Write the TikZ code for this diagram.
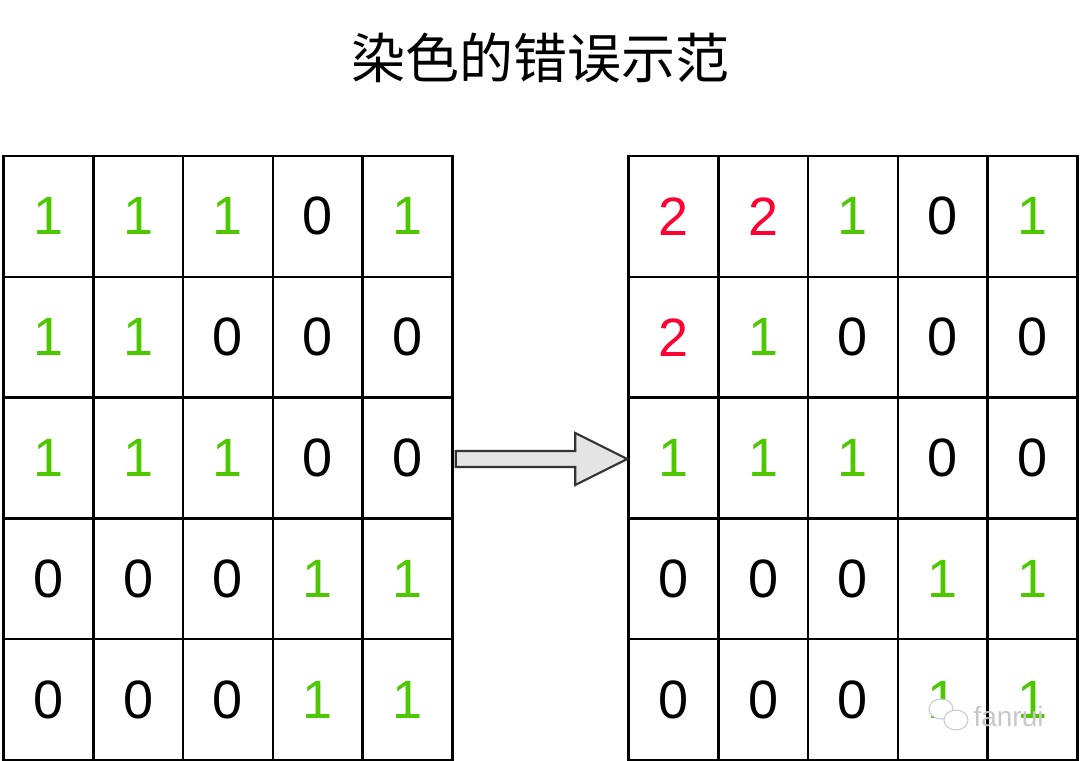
\documentclass[tikz,border=0pt]{standalone}
\usepackage{fontspec}
\setmainfont{Liberation Sans}
\newfontfamily\cjk{Noto Sans CJK SC}
\usetikzlibrary{calc}
\definecolor{gr}{RGB}{77,200,0}
\definecolor{rd}{RGB}{255,0,51}
\definecolor{arrowfill}{RGB}{228,228,228}
\definecolor{arrowline}{RGB}{51,51,51}
\definecolor{wm}{RGB}{200,200,200}
\begin{document}
\begin{tikzpicture}[x=1pt,y=-1pt,
  cell/.style={draw=black,line width=2.5pt,minimum width=89.8pt,minimum height=120.8pt,
    inner sep=0pt,font=\fontsize{54}{54}\selectfont,anchor=center},
  blockarrow/.style={draw=arrowline,fill=arrowfill,line width=2.2pt,line join=miter},
  title/.style={font=\cjk\fontsize{54}{54}\selectfont},
  watermark/.style={text=wm,font=\fontsize{28}{28}\selectfont}]
\useasboundingbox (0,0) rectangle (1080,761);
\node[title] (title) at (540,58) {染色的错误示范};
% left grid
\foreach \rowlist [count=\r] in {
  {1/gr,1/gr,1/gr,0/black,1/gr},
  {1/gr,1/gr,0/black,0/black,0/black},
  {1/gr,1/gr,1/gr,0/black,0/black},
  {0/black,0/black,0/black,1/gr,1/gr},
  {0/black,0/black,0/black,1/gr,1/gr}}{
  \foreach \v/\col [count=\c] in \rowlist {
    \node[cell,text=\col] (L-\r-\c) at ({3.5+(\c-0.5)*89.8},{156+(\r-0.5)*120.8}) {\v};
  }
}
% right grid
\foreach \rowlist [count=\r] in {
  {2/rd,2/rd,1/gr,0/black,1/gr},
  {2/rd,1/gr,0/black,0/black,0/black},
  {1/gr,1/gr,1/gr,0/black,0/black},
  {0/black,0/black,0/black,1/gr,1/gr},
  {0/black,0/black,0/black,1/gr,1/gr}}{
  \foreach \v/\col [count=\c] in \rowlist {
    \node[cell,text=\col] (R-\r-\c) at ({628.5+(\c-0.5)*89.8},{156+(\r-0.5)*120.8}) {\v};
  }
}
% block arrow
\coordinate (as) at ($(L-3-5.east)+(2,1)$);
\coordinate (ae) at ($(R-3-1.west)+(0,1)$);
\draw[blockarrow] ($(as)+(0,-8)$) -- ($(ae)+(-52,-8)$) -- ($(ae)+(-52,-26)$) -- (ae)
  -- ($(ae)+(-52,26)$) -- ($(ae)+(-52,8)$) -- ($(as)+(0,8)$) -- cycle;
% watermark
\draw[wm,line width=1pt,fill=white] (941,709) ellipse (12 and 10);
\draw[wm,line width=1pt,fill=white] (956,720) ellipse (12 and 10);
\node[watermark,anchor=west] (wmtext) at (970,716) {fanrui};
\end{tikzpicture}
\end{document}
